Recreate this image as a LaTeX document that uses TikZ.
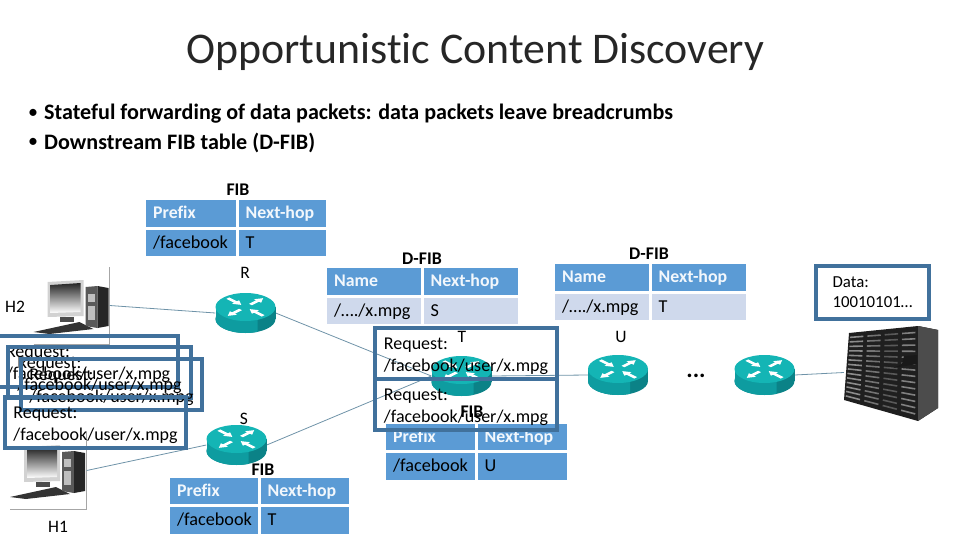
\documentclass[tikz,border=0pt]{standalone}
\usepackage{fontspec}
\setmainfont{Carlito}[Ligatures=NoCommon]
\usetikzlibrary{calc}

\definecolor{boxline}{HTML}{41719C}
\definecolor{headblue}{HTML}{5B9BD5}
\definecolor{rowpale}{HTML}{CFD9EC}
\definecolor{linkgray}{HTML}{6F93A8}
\definecolor{routertop}{HTML}{14B5B5}
\definecolor{routerside}{HTML}{0E9CA0}
\definecolor{routerdark}{HTML}{0B8287}

\tikzset{
  headcell/.style={fill=headblue, text=white!92!headblue, font=\fontsize{17.8}{19}\selectfont\bfseries,
    anchor=north west, inner xsep=7pt, inner ysep=0pt, minimum height=26.5pt, align=left,
    text height=12pt, text depth=1.5pt},
  bodycell/.style={headcell, text=black, font=\fontsize{18.2}{19}\selectfont},
  tabletitle/.style={font=\fontsize{17.8}{19}\selectfont\bfseries, inner sep=0pt},
  plainlabel/.style={font=\fontsize{17.5}{19}\selectfont, inner sep=0pt},
  reqbox/.style={draw=boxline, line width=3.5pt, anchor=north west, inner xsep=8pt, inner ysep=0pt,
    outer sep=0pt, align=left, font=\fontsize{18}{22}\selectfont},
  routerbox/.style={minimum width=60pt, minimum height=40pt, inner sep=0pt},
  hostbox/.style={minimum width=77pt, minimum height=77pt, inner sep=0pt},
  link/.style={draw=linkgray, line width=0.8pt},
  pics/routericon/.style={code={
    \fill[routerdark] (0,6) ellipse [x radius=30, y radius=14];
    \fill[routerdark] (-30,-6) rectangle (30,6);
    \begin{scope}
      \clip (-31,-25) rectangle (12,25);
      \fill[routerside] (0,6) ellipse [x radius=30, y radius=14];
      \fill[routerside] (-30,-6) rectangle (30,6);
    \end{scope}
    \fill[routertop] (0,-6) ellipse [x radius=30, y radius=14];
    \begin{scope}[shift={(0,-6)}, yscale=.5]
      \foreach \ang in {45,225}
        \fill[white, rotate=\ang] (7,-2)--(17,-2)--(17,-5)--(25,0)--(17,5)--(17,2)--(7,2)--cycle;
      \foreach \ang in {135,315}
        \fill[white, rotate=\ang] (25,-2)--(14,-2)--(14,-5)--(6,0)--(14,5)--(14,2)--(25,2)--cycle;
    \end{scope}
  }},
  pics/hosticon/.style={code={
    \draw[gray!70, line width=0.5pt] (-76,0) -- (0,0) -- (0,-77);
    \fill[gray!35] (-62,-62) -- (-26,-64) -- (-26,-28) -- (-62,-27) -- cycle;
    \shade[top color=black!85, bottom color=white] (-59,-59) -- (-29,-61) -- (-29,-32) -- (-59,-31) -- cycle;
    \fill[black!70] (-50,-27) rectangle (-36,-22);
    \fill[black!80] (-76,-12) -- (-30,-22) -- (-16,-15) -- (-60,-10) -- cycle;
    \fill[black!65] (-24,-57) -- (-12,-58) -- (-12,-16) -- (-24,-18) -- cycle;
    \fill[black!85] (-12,-58) -- (-1,-56) -- (-1,-18) -- (-12,-16) -- cycle;
    \fill[gray!50] (-22,-50) rectangle (-15,-42);
    \fill[gray!50] (-22,-38) rectangle (-15,-24);
  }}
}

\begin{document}
\begin{tikzpicture}[x=1pt, y=-1pt]
\useasboundingbox (0,0) rectangle (960,540);

\node[font=\fontsize{43.8}{48}\selectfont, text=black!85, inner sep=0pt] (title) at (475.5,52) {Opportunistic Content Discovery};

\foreach \idx/\ypos/\lab in {
  1/114/{Stateful forwarding of data packets: data packets leave breadcrumbs},
  2/143/{Downstream FIB table (D-FIB)}
}{
  \node[font=\fontsize{20}{24}\selectfont, inner sep=0pt, anchor=west] (dot\idx) at (28,\ypos) {•};
  \node[font=\fontsize{22.1}{24}\selectfont\bfseries, inner sep=0pt, anchor=west] (bullet\idx) at (44,\ypos) {\lab};
}

% hosts and routers
\node[hostbox] (H2) at (71,305.5) {};
\node[hostbox] (H1) at (48,470.5) {};
\pic at (109.5,344) {hosticon};
\pic at (86,509) {hosticon};

\node[routerbox] (R) at (245.5,313) {};
\node[routerbox] (S) at (236.5,445) {};
\node[routerbox] (T) at (461.5,376) {};
\node[routerbox] (U) at (618,375) {};
\node[routerbox] (V) at (764.5,375) {};
\node[minimum width=94pt, minimum height=95pt, inner sep=0pt] (server) at (891,372.5) {};

\draw[link] (H2.east) -- (R.west);
\draw[link] (H1.east) -- (S.west);
\draw[link] (R.east) -- (T.west);
\draw[link] (S.east) -- (T.west);
\draw[link] (T.east) -- (U.west);
\draw[link] (V.east) -- (server.west);

\foreach \nam in {R,S,T,U,V}
  \pic at (\nam) {routericon};

% server racks
\coordinate (TL) at (849,333);
\coordinate (TR) at (918,326);
\coordinate (BL) at (844,400);
\coordinate (BR) at (918,421);
\fill[black!88] (TL) -- (TR) -- (938,330) -- (938,408) -- (BR) -- (BL) -- cycle;
\fill[black!70] (TR) -- (938,330) -- (938,408) -- (BR) -- cycle;
\foreach \rack/\tone in {0/45, 1/55, 2/65, 3/50}{
  \foreach \k in {1,...,14}{
    \pgfmathsetmacro\ta{(\rack+.08)/4}
    \pgfmathsetmacro\tb{(\rack+.85)/4}
    \pgfmathsetmacro\sfrac{\k/15}
    \draw[black!\tone, line width=1.6pt]
      ($($(TL)!\ta!(TR)$)!\sfrac!($(BL)!\ta!(BR)$)$) -- ($($(TL)!\tb!(TR)$)!\sfrac!($(BL)!\tb!(BR)$)$);
  }
}
\fill[black!90] (893,368) -- (917,364) -- (917,355) -- (904,356) -- (902,364) -- cycle;

% tables
\foreach \nam/\xpos/\ypos/\wa/\wb/\heada/\headb/\cella/\cellb/\rowcol in {
  topfib/146/200/90/87/Prefix/Next-hop/{/facebook}/T/headblue,
  lowfib/170/477.5/88/88/Prefix/Next-hop/{/facebook}/T/headblue,
  midfib/386/423.5/89/89/Prefix/Next-hop/{/facebook}/U/headblue,
  leftd/327/268/94/94/Name/Next-hop/{/…./x.mpg}/S/rowpale,
  rightd/555/264/94/94/Name/Next-hop/{/…./x.mpg}/T/rowpale%
}{
  \pgfmathsetmacro\xnext{\xpos+\wa+2.5}
  \pgfmathsetmacro\ynext{\ypos+29.5}
  \pgfmathsetmacro\ta{\wa-14}
  \pgfmathsetmacro\tb{\wb-14}
  \node[headcell, text width=\ta pt] (\nam a) at (\xpos,\ypos) {\heada};
  \node[headcell, text width=\tb pt] (\nam b) at (\xnext,\ypos) {\headb};
  \node[bodycell, fill=\rowcol, text width=\ta pt] (\nam c) at (\xpos,\ynext) {\cella};
  \node[bodycell, fill=\rowcol, text width=\tb pt] (\nam d) at (\xnext,\ynext) {\cellb};
}

\node[tabletitle] (fibone) at (238,190) {FIB};
\node[tabletitle] (fibtwo) at (263,470) {FIB};
\node[tabletitle] (dfibone) at (422,259) {D-FIB};
\node[tabletitle] (dfibtwo) at (649,254) {D-FIB};

% request boxes
\foreach \idx/\xpos/\ypos/\boxw in {
  1/-2/336/180, 2/8/347/183, 3/21/359/181, 4/5/397/181, 5/375/328/182, 6/375/379/182%
}{
  \node[reqbox, minimum width=\boxw pt, minimum height=51pt] (req\idx) at (\xpos,\ypos)
    {\rule{0pt}{18pt}Request:\\/facebook/user/x.mpg};
}

\node[tabletitle] (fibthree) at (472,412) {FIB};

\node[reqbox, minimum width=113pt, minimum height=53pt, inner xsep=9pt, font=\fontsize{16.8}{20}\selectfont] (databox) at (816,266)
  {Data:\\10010101…};

% names
\foreach \nam/\xpos/\ypos/\lab in {
  nameR/245/273/R, nameS/244/419/S, nameT/462/337/T, nameU/621/337/U,
  nameHtwo/15/307/H2, nameHone/58/527/H1%
}{
  \node[plainlabel] (\nam) at (\xpos,\ypos) {\lab};
}
\node[font=\fontsize{24}{24}\selectfont\bfseries, inner sep=0pt] (dots) at (696,376) {...};

\end{tikzpicture}
\end{document}
